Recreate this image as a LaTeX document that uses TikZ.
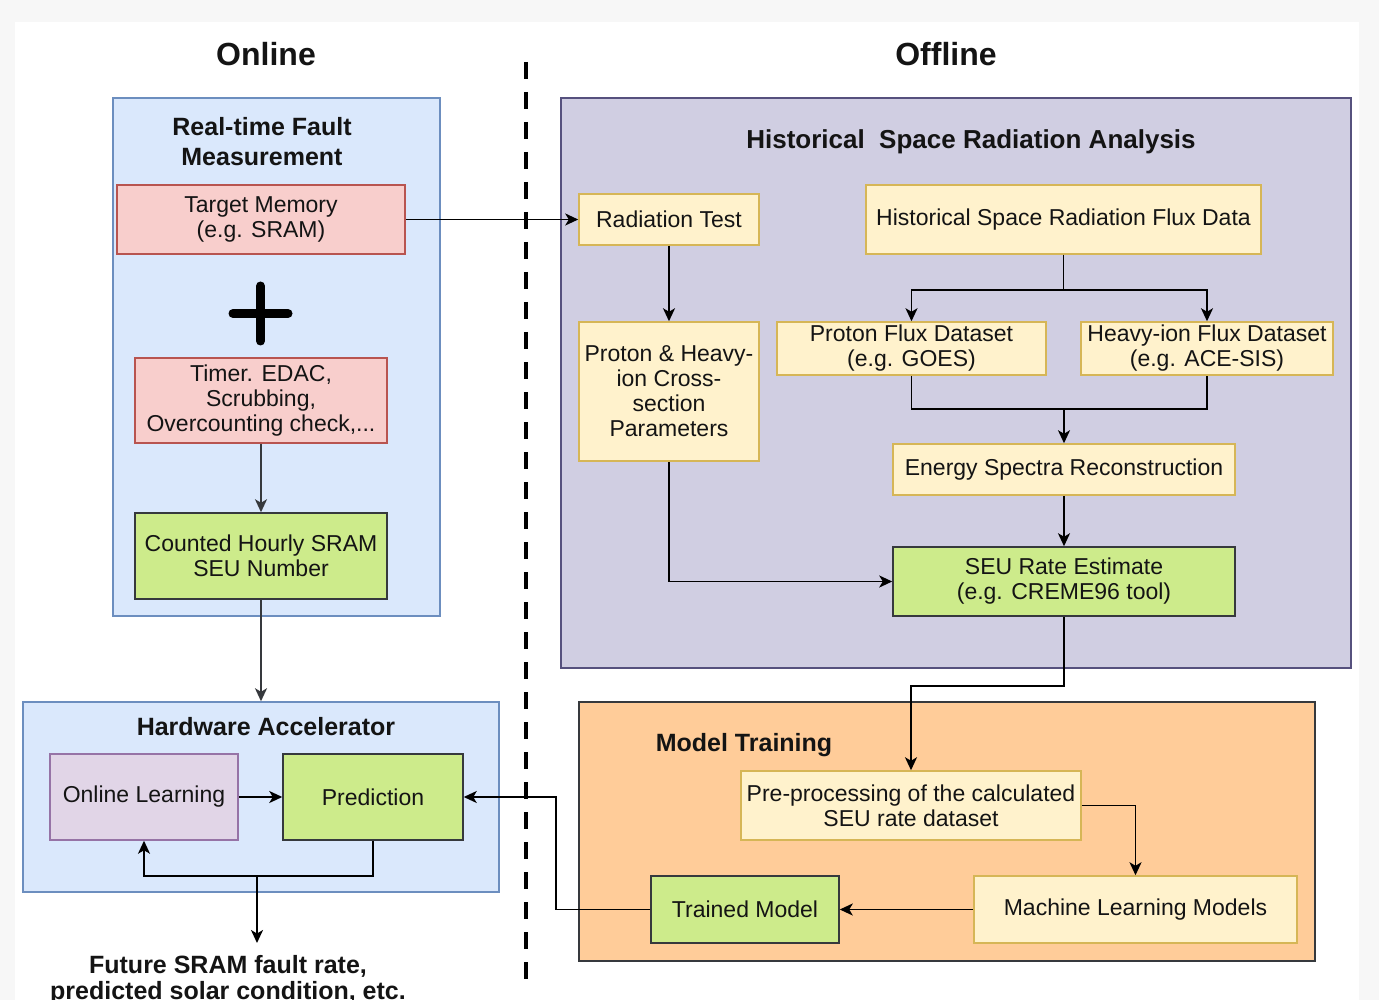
\documentclass[tikz,border=0pt]{standalone}
\usepackage{fontspec}
\setmainfont{Liberation Sans}
\usetikzlibrary{arrows.meta}
\definecolor{bgrey}{HTML}{F7F7F7}
\definecolor{bluef}{HTML}{DAE8FC}\definecolor{blued}{HTML}{6C8EBF}
\definecolor{redf}{HTML}{F8CECC}\definecolor{redd}{HTML}{B85450}
\definecolor{greenf}{HTML}{CDEB8B}\definecolor{darkd}{HTML}{36393D}
\definecolor{yelf}{HTML}{FFF2CC}\definecolor{yeld}{HTML}{D6B656}
\definecolor{purf}{HTML}{E1D5E7}\definecolor{purd}{HTML}{9673A6}
\definecolor{lavf}{HTML}{D0CEE2}\definecolor{lavd}{HTML}{56517E}
\definecolor{oraf}{HTML}{FFCC99}
\definecolor{txt}{HTML}{141414}
\tikzset{
  box/.style={draw, line width=1.5pt, align=center, inner sep=0pt, text=txt,
    font=\fontsize{23}{25}\selectfont},
  redbox/.style={box, fill=redf, draw=redd},
  greenbox/.style={box, fill=greenf, draw=darkd},
  yelbox/.style={box, fill=yelf, draw=yeld},
  purbox/.style={box, fill=purf, draw=purd},
  bluecont/.style={draw=blued, fill=bluef, line width=1.5pt, inner sep=0pt},
  lavcont/.style={draw=lavd, fill=lavf, line width=1.5pt, inner sep=0pt},
  oracont/.style={draw=darkd, fill=oraf, line width=1.5pt, inner sep=0pt},
  sectitle/.style={align=center, inner sep=0pt, text=txt, font=\fontsize{25}{30}\selectfont\bfseries},
  bigtitle/.style={inner sep=0pt, text=txt, font=\fontsize{32}{36}\selectfont\bfseries},
  arr/.style={line width=1.9pt, -{Stealth[length=13pt,width=12pt,inset=3.5pt]}},
  ln/.style={line width=1.9pt},
}
\begin{document}
\begin{tikzpicture}[x=1pt,y=-1pt]
\useasboundingbox (0,0) rectangle (1379,1000);
\fill[bgrey] (0,0) rectangle (1379,1000);
\fill[white] (15,22) rectangle (1359,1000);

% titles
\node[bigtitle] (online) at (266,54) {Online};
\node[bigtitle] (offline) at (946,54) {Offline};
\draw[line width=4.5pt, dash pattern=on 17pt off 13pt] (526,62) -- (526,980);

% containers
\node[bluecont, minimum width=327, minimum height=518] (rtfm) at (276.5,357) {};
\node[bluecont, minimum width=476, minimum height=190] (hwa) at (261,797) {};
\node[lavcont, minimum width=790, minimum height=570] (hsra) at (956,383) {};
\node[oracont, minimum width=736, minimum height=259] (mt) at (947,831.5) {};

\node[sectitle] (rtfmt) at (262,142) {Real-time Fault\\Measurement};
\node[sectitle] (hwat) at (266,727) {Hardware Accelerator};
\node[sectitle, font=\fontsize{26}{30}\selectfont\bfseries] (hsrat) at (971,142) {Historical\ \ Space Radiation Analysis};
\node[sectitle] (mtt) at (744,745) {Model Training};

% online boxes
\node[redbox, minimum width=288, minimum height=69] (tm) at (261,219.5) {Target Memory\\(e.g. SRAM)};
\draw[line width=9pt, line cap=round] (233,313.5) -- (288,313.5) (260.5,286) -- (260.5,341);
\node[redbox, minimum width=252, minimum height=85] (timer) at (261,400.5) {Timer. EDAC,\\Scrubbing,\\Overcounting check,...};
\node[greenbox, minimum width=252, minimum height=86] (counted) at (261,556) {Counted Hourly SRAM\\SEU Number};
\node[purbox, minimum width=188, minimum height=86] (ol) at (144,797) {Online Learning};
\node[greenbox, minimum width=180, minimum height=86] (pred) at (373,797) {Prediction};
\node[align=center, inner sep=0pt, anchor=north, text=txt, font=\fontsize{25}{26}\selectfont\bfseries] (out) at (228,955) {Future SRAM fault rate,\\predicted solar condition, etc.};

% offline boxes
\node[yelbox, minimum width=180, minimum height=51] (rt) at (669,219.5) {Radiation Test};
\node[yelbox, minimum width=395, minimum height=69] (hflux) at (1063.5,219.5) {Historical\ Space Radiation Flux Data};
\node[yelbox, minimum width=180, minimum height=139] (cross) at (669,391.5) {Proton \& Heavy-\\ion Cross-\\section\\Parameters};
\node[yelbox, minimum width=269, minimum height=53] (pflux) at (911.5,348.5) {Proton Flux Dataset\\(e.g. GOES)};
\node[yelbox, minimum width=252, minimum height=53] (hiflux) at (1207,348.5) {Heavy-ion Flux Dataset\\(e.g. ACE-SIS)};
\node[yelbox, minimum width=342, minimum height=51] (esr) at (1064,469.5) {Energy\ Spectra Reconstruction};
\node[greenbox, minimum width=342, minimum height=69] (seu) at (1064,581.5) {SEU Rate Estimate\\(e.g. CREME96 tool)};
\node[yelbox, minimum width=340, minimum height=69] (pre) at (911,805.5) {Pre-processing of the calculated\\SEU rate dataset};
\node[yelbox, minimum width=323, minimum height=67] (ml) at (1135.5,909.5) {Machine Learning Models};
\node[greenbox, minimum width=188, minimum height=67] (trained) at (745,909.5) {Trained Model};

% connectors
\draw[arr] (tm.east) -- (rt.west);
\draw[arr, draw=darkd] (timer.south) -- (counted.north);
\draw[arr, draw=darkd] (counted.south) -- (hwa.north);
\draw[arr] (ol.east) -- (pred.west);
\coordinate (fb) at (257,876);
\coordinate (outin) at (257,943);
\draw[arr] (pred.south) |- (fb) -| (ol.south);
\draw[arr] (fb) -- (outin);

\draw[arr] (rt.south) -- (cross.north);
\coordinate (split) at (1063.5,290);
\draw[ln] (hflux.south) -- (split);
\draw[arr] (split) -| (pflux.north);
\draw[arr] (split) -| (hiflux.north);
\coordinate (join) at (1064,409);
\draw[ln] (pflux.south) |- (join) -| (hiflux.south);
\draw[arr] (join) -- (esr.north);
\draw[arr] (esr.south) -- (seu.north);
\draw[arr] (cross.south) |- (seu.west);
\draw[arr] (seu.south) -- ++(0,69) -| (pre.north);
\draw[arr] (pre.east) -| (ml.north);
\draw[arr] (ml.west) -- (trained.east);
\draw[arr] (trained.west) -- ++(-94,0) |- (pred.east);
\end{tikzpicture}
\end{document}
